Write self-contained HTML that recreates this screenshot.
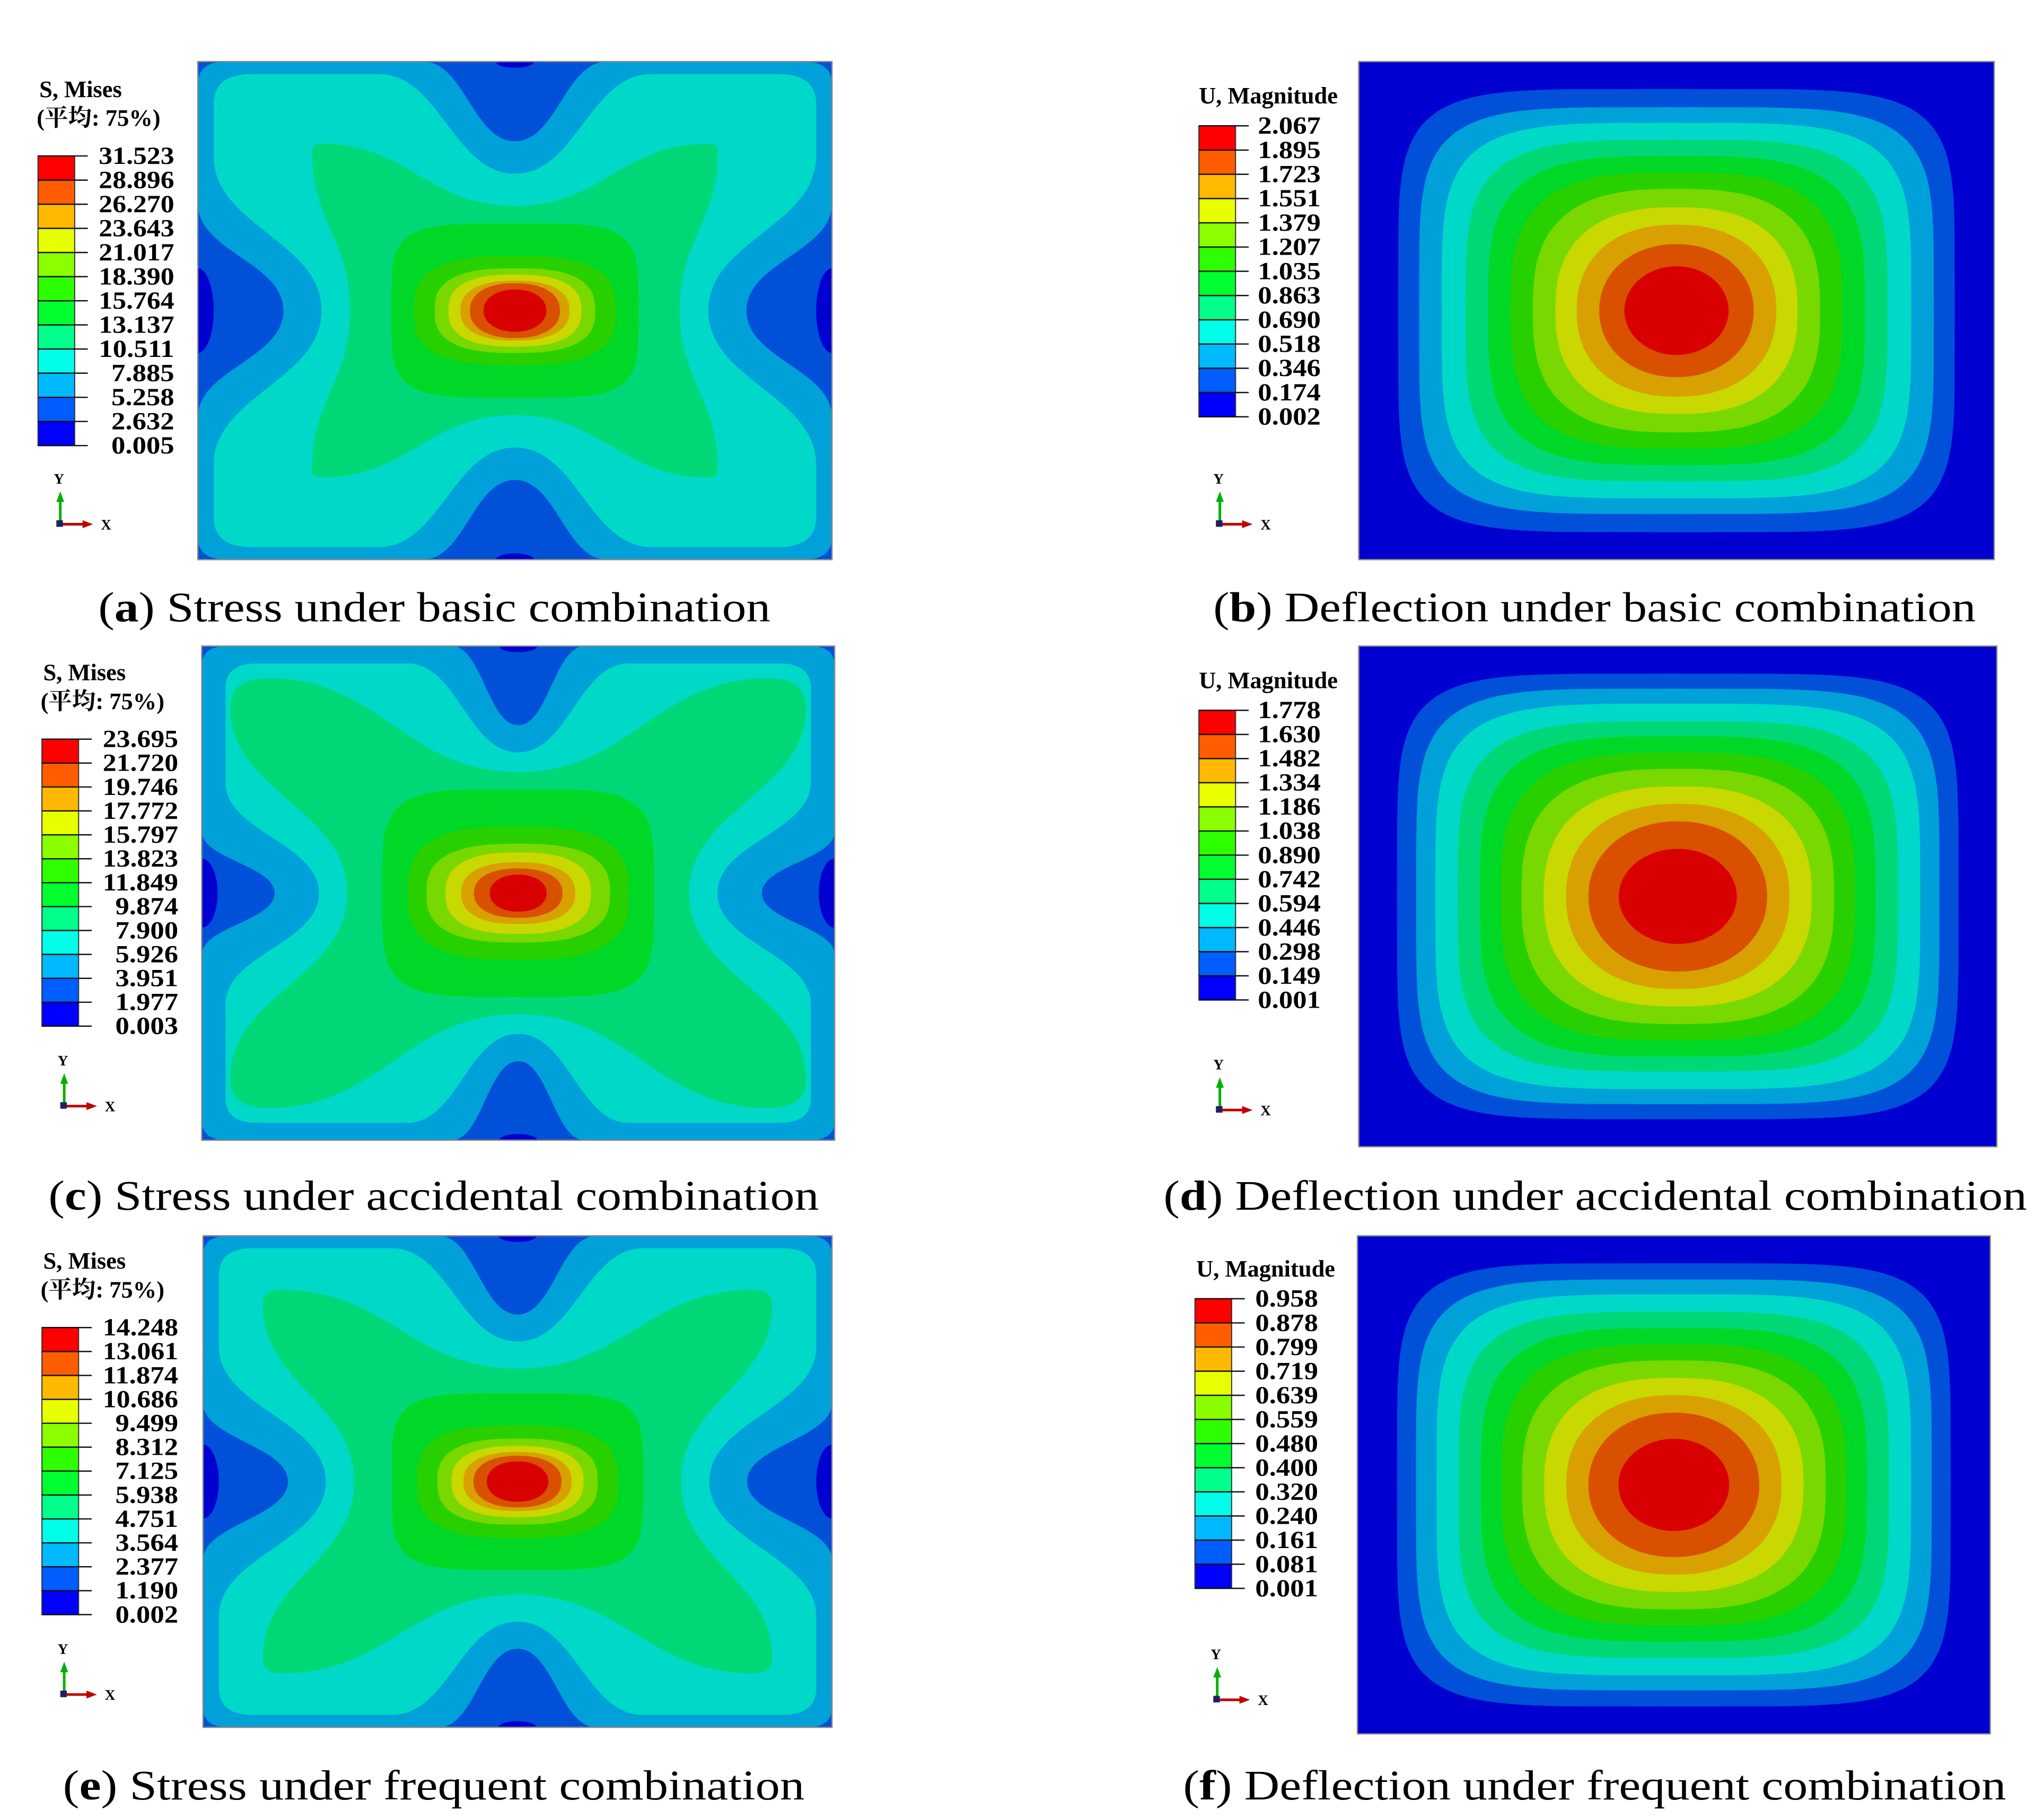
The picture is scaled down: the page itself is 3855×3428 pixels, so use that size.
<!DOCTYPE html>
<html><head><meta charset="utf-8"><style>
html,body{margin:0;padding:0;background:#fff;}
svg{display:block;}
text{font-family:"Liberation Serif","Noto Serif CJK SC","Noto Sans CJK SC",serif;}
</style></head><body>
<svg id="fig" xmlns="http://www.w3.org/2000/svg" width="3855" height="3428" viewBox="0 0 1560 1387.2"></svg>
<script>
const legendColors = ['#0000ff','#005dff','#00b9ff','#00ffe8','#00ff8b','#00ff2e','#2eff00','#8bff00','#e8ff00','#ffb900','#ff5d00','#ff0000'];
const plotColors = ['#0000d0','#0050d8','#00a0d8','#00d8c8','#00d878','#00d828','#28d000','#78d800','#c8d800','#d8a000','#d85000','#d80000'];
const labelsA = ['31.523','28.896','26.270','23.643','21.017','18.390','15.764','13.137','10.511','7.885','5.258','2.632','0.005'];
const labelsB = ['2.067','1.895','1.723','1.551','1.379','1.207','1.035','0.863','0.690','0.518','0.346','0.174','0.002'];
const labelsC = ['23.695','21.720','19.746','17.772','15.797','13.823','11.849','9.874','7.900','5.926','3.951','1.977','0.003'];
const labelsD = ['1.778','1.630','1.482','1.334','1.186','1.038','0.890','0.742','0.594','0.446','0.298','0.149','0.001'];
const labelsE = ['14.248','13.061','11.874','10.686','9.499','8.312','7.125','5.938','4.751','3.564','2.377','1.190','0.002'];
const labelsF = ['0.958','0.878','0.799','0.719','0.639','0.559','0.480','0.400','0.320','0.240','0.161','0.081','0.001'];
const captions = [
 ['a',' Stress under basic combination',75,588,474],
 ['b',' Deflection under basic combination',926,1508,474],
 ['c',' Stress under accidental combination',37,625,923],
 ['d',' Deflection under accidental combination',888,1547,923],
 ['e',' Stress under frequent combination',48,614,1373],
 ['f',' Deflection under frequent combination',903,1531,1373]
];
const defHwB = [.876,.810,.739,.664,.593,.522,.452,.381,.314,.243,.164];
const defHhB = [.890,.817,.754,.686,.621,.555,.489,.415,.345,.267,.178];
const defHwD = [.88,.82,.76,.69,.62,.555,.49,.42,.35,.28,.185];
const defHhD = [.89,.83,.77,.70,.64,.575,.51,.44,.37,.30,.19];
const defHwF = [.875,.815,.75,.68,.61,.545,.48,.41,.34,.27,.175];
const defHhF = [.89,.825,.765,.695,.63,.565,.50,.43,.36,.29,.185];
const ringHwA = [.39,.318,.253,.21,.172,.142,.099];
const ringHhA = [.35,.22,.17,.145,.12,.11,.085];
const ringHwC = [.43,.35,.29,.23,.18,.14,.09];
const ringHhC = [.42,.27,.20,.165,.125,.10,.075];
const ringHwE = [.40,.32,.255,.21,.172,.14,.098];
const ringHhE = [.36,.23,.175,.145,.12,.105,.082];

const NS='http://www.w3.org/2000/svg';
const svg=document.getElementById('fig');
function mk(tag,attrs,parent){const e=document.createElementNS(NS,tag);for(const k in attrs)e.setAttribute(k,attrs[k]);(parent||svg).appendChild(e);return e;}

function notched(m,eu,ev,r,tw,tv,sh,su){
 const T=-(1-ev),L=-(1-eu);const P=(u,v)=>m(u,v);
 let d='M'+P(L+r,T)+'L'+P(-tw,T)+'C'+P(-tw*.55,T)+' '+P(-tw*.45,-tv)+' '+P(0,-tv)+'C'+P(tw*.45,-tv)+' '+P(tw*.55,T)+' '+P(tw,T)
 +'L'+P(-L-r,T)+'Q'+P(-L,T)+' '+P(-L,T+r)
 +'L'+P(-L,-sh)+'C'+P(-L,-sh*.55)+' '+P(su,-sh*.45)+' '+P(su,0)+'C'+P(su,sh*.45)+' '+P(-L,sh*.55)+' '+P(-L,sh)
 +'L'+P(-L,-T-r)+'Q'+P(-L,-T)+' '+P(-L-r,-T)
 +'L'+P(tw,-T)+'C'+P(tw*.55,-T)+' '+P(tw*.45,tv)+' '+P(0,tv)+'C'+P(-tw*.45,tv)+' '+P(-tw*.55,-T)+' '+P(-tw,-T)
 +'L'+P(L+r,-T)+'Q'+P(L,-T)+' '+P(L,-T-r)
 +'L'+P(L,sh)+'C'+P(L,sh*.55)+' '+P(-su,sh*.45)+' '+P(-su,0)+'C'+P(-su,-sh*.45)+' '+P(L,-sh*.55)+' '+P(L,-sh)
 +'L'+P(L,T+r)+'Q'+P(L,T)+' '+P(L+r,T)+'Z';
 return d;
}
function superE(m,a,b,n){let d='';for(let i=0;i<=120;i++){const t=i/120*2*Math.PI,c=Math.cos(t),s=Math.sin(t);
 const u=a*Math.sign(c)*Math.pow(Math.abs(c),2/n),v=b*Math.sign(s)*Math.pow(Math.abs(s),2/n);d+=(i?'L':'M')+m(u,v);}return d+'Z';}

let clipId=0;
function plotFrame(x0,y0,x1,y1,name){
 const id='clip'+(clipId++);
 const cp=mk('clipPath',{id:id});mk('rect',{x:x0,y:y0,width:x1-x0,height:y1-y0},cp);
 const g=mk('g',{'clip-path':'url(#'+id+')'});
 
 
 const cx=(x0+x1)/2,cy=(y0+y1)/2,hw=(x1-x0)/2,hh=(y1-y0)/2;
 const m=(u,v)=>(cx+u*hw).toFixed(1)+','+(cy+v*hh).toFixed(1);
 return {g,m,x0,y0,x1,y1};
}
function border(f){const b=mk('rect',{x:f.x0,y:f.y0,width:f.x1-f.x0,height:f.y1-f.y0,fill:'none',stroke:'#888','stroke-width':1});
 }

function stressPlot(x0,y0,x1,y1,p,rHw,rHh,name){
 const f=plotFrame(x0,y0,x1,y1,name),g=f.g,m=f.m;
 mk('rect',{x:x0,y:y0,width:x1-x0,height:y1-y0,fill:plotColors[1]},g);
 [[-1,0,.05,p.dk],[1,0,.05,p.dk],[0,-1,.06,.025],[0,1,.06,.025]].forEach(q=>{
  const [u,v,a,b]=q;const c=m(u,v).split(',');
  const e=mk('ellipse',{cx:c[0],cy:c[1],rx:a*(x1-x0)/2,ry:b*(y1-y0)/2,fill:plotColors[0]},g);
  
 });
 const l1=mk('path',{d:notched(m,p.l1[0],p.l1[1],p.l1[2],p.l1[3],p.l1[4],p.l1[5],p.l1[6]),fill:plotColors[2]},g);
 
 const l2=mk('path',{d:notched(m,p.l2[0],p.l2[1],p.l2[2],p.l2[3],p.l2[4],p.l2[5],p.l2[6]),fill:plotColors[3]},g);
 
 const s=p.star;
 const l3=mk('path',{d:notched(m,1-s[0],1-s[1],s[4],s[0]-s[4],s[2],s[1]-s[4],s[3]),fill:plotColors[4]},g);
 
 for(let i=0;i<rHw.length;i++){
  const n=i==0?4.5:3.0-i*0.15;
  const r=mk('path',{d:superE(m,rHw[i],rHh[i],n),fill:plotColors[5+i]},g);
  
 }
 border(f);
}
function deflPlot(x0,y0,x1,y1,hws,hhs,name){
 const f=plotFrame(x0,y0,x1,y1,name),g=f.g,m=f.m;
 mk('rect',{x:x0,y:y0,width:x1-x0,height:y1-y0,fill:plotColors[0]},g);
 for(let i=0;i<hws.length;i++){
  const k=1-i/(hws.length-1);
  const n=2+3.4*Math.pow(k,1.6);
  const r=mk('path',{d:superE(m,hws[i],hhs[i],n),fill:plotColors[1+i]},g);
  
 }
 border(f);
}
function legend(tx,title1,title2,bx,by0,by1,labels,lblRight,name){
 const g=mk('g',{});
 const t=mk('text',{x:tx,y:title2?by0-45:by0-17,'font-size':18,'font-weight':'bold',fill:'#000'},g);t.textContent=title1;
 
 if(title2){const t2=mk('text',{x:tx-2,y:by0-23,'font-size':18,'font-weight':'bold',fill:'#000'},g);t2.textContent=title2;
  }
 const n=labels.length-1,h=(by1-by0)/n;
 for(let i=0;i<n;i++){
  const r=mk('rect',{x:bx,y:by0+i*h,width:28,height:h+0.3,fill:legendColors[n-1-i]},g);
  
 }
 mk('rect',{x:bx,y:by0,width:28,height:by1-by0,fill:'none',stroke:'#333','stroke-width':0.8},g);
 for(let i=0;i<=n;i++){
  const y=by0+i*h;
  mk('line',{x1:bx,x2:bx+38,y1:y,y2:y,stroke:'#111','stroke-width':1},g);
  const s=labels[i];
  const tl=mk('text',{x:lblRight,y:y+6,'font-size':19,'font-weight':'bold','text-anchor':'end',textLength:s.length*9.6,lengthAdjust:'spacingAndGlyphs',fill:'#000'},g);
  tl.textContent=s;
  
 }
}
function triad(x,y){
 const g=mk('g',{});
 mk('line',{x1:x,y1:y,x2:x,y2:y-18,stroke:'#00b000','stroke-width':2},g);
 mk('path',{d:`M${x-3},${y-17}L${x},${y-25}L${x+3},${y-17}Z`,fill:'#00b000'},g);
 mk('line',{x1:x,y1:y,x2:x+18,y2:y,stroke:'#c00000','stroke-width':2},g);
 mk('path',{d:`M${x+17},${y-3}L${x+25},${y}L${x+17},${y+3}Z`,fill:'#c00000'},g);
 mk('rect',{x:x-3,y:y-3,width:5,height:5,fill:'#202060'},g);
 const ty=mk('text',{x:x-1,y:y-31,'font-size':11,'font-family':'Liberation Sans','font-weight':'bold','text-anchor':'middle'},g);ty.textContent='Y';
 const tx=mk('text',{x:x+31,y:y+4,'font-size':11,'font-family':'Liberation Sans','font-weight':'bold'},g);tx.textContent='X';
}

legend(30,'S, Mises','(平均: 75%)',29,119,340,labelsA,133,'legend-a');
stressPlot(151,47,635,427,{dk:.17,l1:[0,0,.09,.29,.68,.43,.73],l2:[.05,.05,.12,.43,.55,.62,.61],star:[.64,.67,.42,.52,.03]},ringHwA,ringHhA,'plot-a-stress-basic');
triad(46,400);
legend(33,'S, Mises','(平均: 75%)',32,564,783,labelsC,136,'legend-c');
stressPlot(154,493,637,870,{dk:.14,l1:[0,0,.08,.21,.68,.25,.77],l2:[.075,.07,.1,.35,.57,.45,.63],star:[.91,.87,.49,.54,.12]},ringHwC,ringHhC,'plot-c-stress-accidental');
triad(49,844);
legend(33,'S, Mises','(平均: 75%)',32,1013,1232,labelsE,136,'legend-e');
stressPlot(155,943,635,1318,{dk:.15,l1:[0,0,.08,.25,.68,.32,.73],l2:[.05,.05,.11,.40,.57,.55,.61],star:[.81,.78,.46,.52,.06]},ringHwE,ringHhE,'plot-e-stress-frequent');
triad(49,1293);

legend(915,'U, Magnitude',null,915,96,318,labelsB,1008,'legend-b');
deflPlot(1037,47,1522,427,defHwB,defHhB,'plot-b-deflection-basic');
triad(931,400);
legend(915,'U, Magnitude',null,915,542,763,labelsD,1008,'legend-d');
deflPlot(1037,493,1524,875,defHwD,defHhD,'plot-d-deflection-accidental');
triad(931,847);
legend(913,'U, Magnitude',null,912,991,1212,labelsF,1006,'legend-f');
deflPlot(1036,943,1519,1323,defHwF,defHhF,'plot-f-deflection-frequent');
triad(929,1297);

captions.forEach(c=>{
 const t=mk('text',{x:c[2],y:c[4],'font-size':32,textLength:c[3]-c[2],lengthAdjust:'spacingAndGlyphs',fill:'#000'});
 
 
 const a=mk('tspan',{},t);a.textContent='(';
 const b=mk('tspan',{'font-weight':'bold'},t);b.textContent=c[0];
 const d=mk('tspan',{},t);d.textContent=')'+c[1];
});
</script>
</body></html>
